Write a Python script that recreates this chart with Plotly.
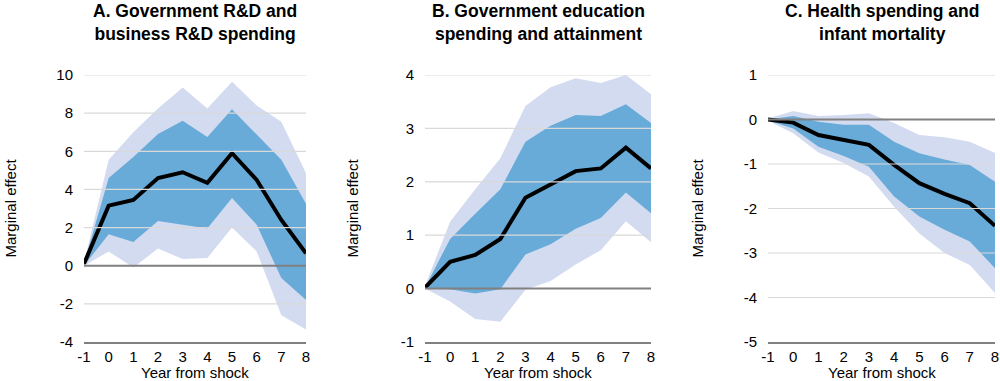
import plotly.graph_objects as go

years = [-1, 0, 1, 2, 3, 4, 5, 6, 7, 8]

titles = ["A. Government R&D and<br>business R&D spending",
          "B. Government education<br>spending and attainment",
          "C. Health spending and<br>infant mortality"]

# Panel A
a_est = [0.1, 3.15, 3.45, 4.6, 4.9, 4.35, 5.9, 4.5, 2.4, 0.65]
a_in_hi = [0.1, 4.6, 5.7, 6.9, 7.6, 6.75, 8.2, 6.9, 5.55, 3.25]
a_in_lo = [0.0, 1.65, 1.25, 2.35, 2.15, 1.95, 3.55, 2.15, -0.65, -1.8]
a_out_hi = [0.15, 5.55, 7.0, 8.25, 9.35, 8.25, 9.65, 8.4, 7.55, 4.85]
a_out_lo = [0.0, 0.75, -0.1, 0.9, 0.35, 0.4, 2.0, 0.75, -2.6, -3.35]

# Panel B
b_est = [0.02, 0.5, 0.63, 0.93, 1.7, 1.95, 2.2, 2.25, 2.64, 2.25]
b_in_hi = [0.02, 0.93, 1.4, 1.86, 2.75, 3.05, 3.25, 3.23, 3.45, 3.1]
b_in_lo = [0.0, -0.01, -0.09, -0.01, 0.64, 0.83, 1.12, 1.32, 1.8, 1.41]
b_out_hi = [0.05, 1.25, 1.86, 2.44, 3.42, 3.77, 3.94, 3.85, 4.0, 3.64]
b_out_lo = [0.0, -0.24, -0.57, -0.62, -0.02, 0.14, 0.45, 0.72, 1.26, 0.87]

# Panel C
c_est = [0.0, -0.07, -0.35, -0.47, -0.57, -1.02, -1.43, -1.67, -1.88, -2.39]
c_in_hi = [0.0, 0.08, -0.05, -0.12, -0.12, -0.5, -0.76, -0.9, -1.02, -1.4]
c_in_lo = [-0.02, -0.2, -0.61, -0.82, -1.06, -1.73, -2.18, -2.48, -2.74, -3.34]
c_out_hi = [0.02, 0.19, 0.08, 0.1, 0.14, -0.08, -0.35, -0.4, -0.5, -0.75]
c_out_lo = [-0.03, -0.31, -0.74, -0.98, -1.28, -1.96, -2.56, -3.0, -3.27, -3.9]

y_ranges = [[-4, 10], [-1, 4], [-5, 1]]
y_ticks = [[-4, -2, 0, 2, 4, 6, 8, 10], [-1, 0, 1, 2, 3, 4], [-5, -4, -3, -2, -1, 0, 1]]

panels = [
    (a_est, a_in_hi, a_in_lo, a_out_hi, a_out_lo),
    (b_est, b_in_hi, b_in_lo, b_out_hi, b_out_lo),
    (c_est, c_in_hi, c_in_lo, c_out_hi, c_out_lo),
]

W, H = 1000, 381
x_px = [(84, 306), (425, 651), (768, 995)]
ytitle_px = [10, 352, 697]
y_top, y_bot = 75, 342

LIGHT = "rgb(211,219,240)"
DARK = "rgb(104,171,216)"
GRID = "rgb(217,217,217)"
AXIS = "rgb(128,128,128)"
FONT = "Liberation Sans, Arial, sans-serif"


def lab(v):
    return str(v)  # plain hyphen-minus, as in the reference


fig = go.Figure()
layout = dict(
    width=W, height=H, margin=dict(l=0, r=0, t=0, b=0, autoexpand=False),
    paper_bgcolor="white", plot_bgcolor="white", showlegend=False,
    font=dict(family=FONT, color="black", size=15),
)
annotations = []
shapes = []
for i, (est, ih, il, oh, ol) in enumerate(panels):
    n = "" if i == 0 else str(i + 1)
    xa, ya = "x" + n, "y" + n
    fig.add_trace(go.Scatter(x=years + years[::-1], y=oh + ol[::-1], fill="toself",
                             fillcolor=LIGHT, line=dict(width=0), mode="lines",
                             hoverinfo="skip", xaxis=xa, yaxis=ya))
    fig.add_trace(go.Scatter(x=years + years[::-1], y=ih + il[::-1], fill="toself",
                             fillcolor=DARK, line=dict(width=0), mode="lines",
                             hoverinfo="skip", xaxis=xa, yaxis=ya))
    fig.add_trace(go.Scatter(x=years, y=est, mode="lines",
                             line=dict(color="black", width=4), xaxis=xa, yaxis=ya))
    x0, x1 = x_px[i]
    layout["xaxis" + n] = dict(
        domain=[x0 / W, x1 / W], range=[-1, 8], tickvals=years,
        ticktext=[lab(v) for v in years], anchor=ya, automargin=False,
        showgrid=False, zeroline=False, showline=True, linecolor=AXIS, linewidth=1.5,
        ticks="", ticklabelstandoff=0, tickfont=dict(size=15), fixedrange=True,
    )
    layout["yaxis" + n] = dict(
        domain=[1 - y_bot / H, 1 - y_top / H], range=y_ranges[i], tickvals=y_ticks[i],
        ticktext=[lab(v) for v in y_ticks[i]], automargin=False,
        anchor=xa, showgrid=False, zeroline=False, showline=False, ticks="",
        ticklabelstandoff=10, tickfont=dict(size=15), fixedrange=True,
    )
    for t in y_ticks[i]:
        if t == y_ranges[i][0]:
            continue
        shapes.append(dict(type="line", xref=xa + " domain", yref=ya, x0=0, x1=1, y0=t, y1=t,
                           line=dict(color=AXIS if t == 0 else GRID,
                                     width=2 if t == 0 else 1.2), layer="above"))
    cx = (x0 + x1) / 2 / W
    annotations.append(dict(text="<b>" + titles[i] + "</b>", xref="paper", yref="paper",
                            x=cx, y=1 + 1 / H, xanchor="center", yanchor="top",
                            showarrow=False, font=dict(size=17.5, family=FONT)))
    annotations.append(dict(text="Year from shock", xref="paper", yref="paper",
                            x=cx, y=1 - 372 / H, xanchor="center", yanchor="middle",
                            showarrow=False, font=dict(size=15, family=FONT)))
    annotations.append(dict(text="Marginal effect", xref="paper", yref="paper",
                            x=ytitle_px[i] / W, y=1 - (y_top + y_bot) / 2 / H,
                            xanchor="center", yanchor="middle", textangle=-90,
                            showarrow=False, font=dict(size=15, family=FONT)))

layout["annotations"] = annotations
layout["shapes"] = shapes
fig.update_layout(**layout)
fig.write_html("out.html", config={"displayModeBar": False},
               post_script="document.body.style.margin='0';document.body.style.overflow='hidden';")
